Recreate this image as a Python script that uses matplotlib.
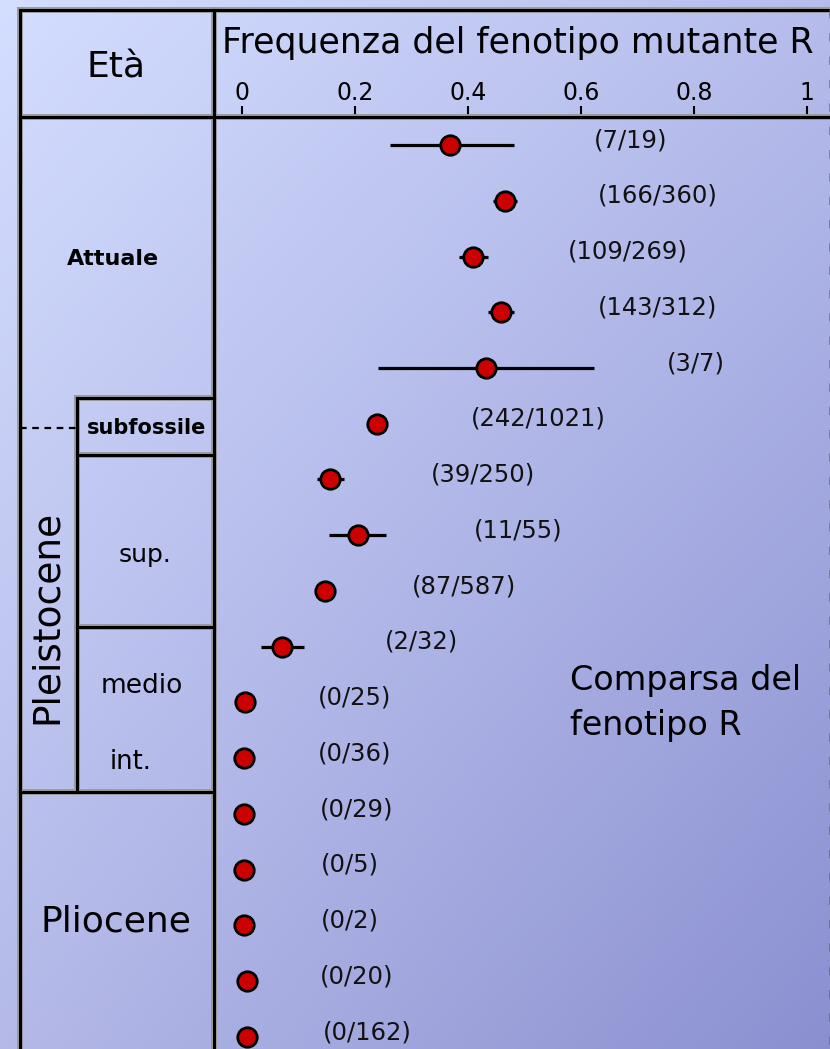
import numpy as np
import matplotlib
matplotlib.use("Agg")
import matplotlib.pyplot as plt

# ---------------- data ----------------
count_labels = ["(7/19)", "(166/360)", "(109/269)", "(143/312)", "(3/7)",
                "(242/1021)", "(39/250)", "(11/55)", "(87/587)", "(2/32)",
                "(0/25)", "(0/36)", "(0/29)", "(0/5)", "(0/2)", "(0/20)", "(0/162)"]
freq = [0.368, 0.465, 0.409, 0.458, 0.432, 0.239, 0.156, 0.205, 0.147, 0.071,
        0.006, 0.003, 0.003, 0.003, 0.003, 0.009, 0.009]
ci_low = [0.262, 0.444, 0.384, 0.436, 0.241, 0.239, 0.132, 0.154, 0.147, 0.034,
          0.006, 0.003, 0.003, 0.003, 0.003, 0.009, 0.009]
ci_high = [0.482, 0.487, 0.435, 0.482, 0.623, 0.239, 0.181, 0.255, 0.147, 0.110,
           0.006, 0.003, 0.003, 0.003, 0.003, 0.009, 0.009]
label_x = [0.623, 0.629, 0.577, 0.629, 0.752, 0.405, 0.334, 0.411, 0.300, 0.253,
           0.134, 0.134, 0.138, 0.140, 0.140, 0.138, 0.143]
xtick_vals = [0, 0.2, 0.4, 0.6, 0.8, 1]
xtick_labels = ["0", "0.2", "0.4", "0.6", "0.8", "1"]

# ---------------- figure ----------------
W, H, DPI = 830, 1049, 100
fig = plt.figure(figsize=(W / DPI, H / DPI), dpi=DPI)

# background gradient (whole figure)
bg = fig.add_axes([0, 0, 1, 1], zorder=0)
yy, xx = np.mgrid[0:H, 0:W]
u = xx / W
v = yy / H
TL = np.array([212, 222, 255]) / 255
TR = np.array([182, 189, 236]) / 255
BL = np.array([180, 185, 232]) / 255
BR = np.array([138, 143, 208]) / 255
img = (TL[None, None, :] * ((1 - u) * (1 - v))[..., None]
       + TR[None, None, :] * (u * (1 - v))[..., None]
       + BL[None, None, :] * ((1 - u) * v)[..., None]
       + BR[None, None, :] * (u * v)[..., None])
bg.imshow(img, extent=(0, W, H, 0), aspect="auto", interpolation="bilinear")
bg.set_xlim(0, W)
bg.set_ylim(H, 0)
bg.axis("off")

# main data axes
ax_left_px, ax_top_px = 214, 117
ax = fig.add_axes([ax_left_px / W, 0, 1 - ax_left_px / W, 1 - ax_top_px / H], zorder=2)
ax.patch.set_alpha(0)
zero_px, px_per_unit = 242, 565
ax.set_xlim((ax_left_px - zero_px) / px_per_unit, (W - zero_px) / px_per_unit)
row0_px, row_step = 145, 55.75
ax.set_ylim((H - row0_px) / row_step, (ax_top_px - row0_px) / row_step)

rows = np.arange(len(freq))
f = np.array(freq)
xerr = [f - np.array(ci_low), np.array(ci_high) - f]
ax.errorbar(f, rows, xerr=xerr, fmt="o", ecolor="black", elinewidth=2.3,
            capsize=0, markersize=14, markerfacecolor="#cc0000",
            markeredgecolor="black", markeredgewidth=2, zorder=3)

for i, (lab, lx) in enumerate(zip(count_labels, label_x)):
    ax.annotate(lab, (lx, rows[i]), xytext=(0, 3.5), textcoords="offset points",
                ha="left", va="center", fontsize=17.5, color="#111111")

ax.xaxis.tick_top()
ax.set_xticks(xtick_vals)
ax.set_xticklabels(xtick_labels)
ax.tick_params(axis="x", direction="out", length=8, width=1.5, pad=1,
               labelsize=17, top=True, bottom=False, colors="black")
ax.set_yticks([])
for s in ax.spines.values():
    s.set_visible(False)

# overlay for the table frame and texts (pixel coordinates)
ov = fig.add_axes([0, 0, 1, 1], zorder=3)
ov.set_xlim(0, W)
ov.set_ylim(H, 0)
ov.axis("off")
ov.patch.set_alpha(0)

def seg(p1, p2, ls="-"):
    ov.plot([p1[0], p2[0]], [p1[1], p2[1]], color="#9a9a9a", lw=4.2,
            solid_capstyle="projecting", ls=ls, zorder=1)
    ov.plot([p1[0], p2[0]], [p1[1], p2[1]], color="black", lw=2.2,
            solid_capstyle="projecting", ls=ls, zorder=2)

seg((20, 10), (830, 10))
seg((20, 10), (20, 1049))
seg((214, 10), (214, 1049))
seg((20, 117), (830, 117))
seg((77, 398), (214, 398))
seg((77, 398), (77, 792))
seg((77, 455), (214, 455))
seg((77, 627), (214, 627))
seg((20, 792), (214, 792))
ov.plot([20, 77], [428, 428], color="black", lw=1.6, ls=(0, (3, 2.5)), zorder=2)
ov.plot([829.5, 829.5], [10, 1049], color="#5a5a80", lw=1.2, alpha=0.7,
        ls=(0, (5, 9)), zorder=2)

ov.text(116, 77, "Età", ha="center", va="baseline", fontsize=26)
ov.text(222, 53, "Frequenza del fenotipo mutante R", ha="left", va="baseline", fontsize=25)
ov.text(113, 259, "Attuale", ha="center", va="center", fontsize=16, fontweight="bold")
ov.text(147, 428, "subfossile", ha="center", va="center", fontsize=15, fontweight="bold")
ov.text(145, 555, "sup.", ha="center", va="center", fontsize=18)
ov.text(142, 686, "medio", ha="center", va="center", fontsize=19)
ov.text(131, 762, "int.", ha="center", va="center", fontsize=18.5)
ov.text(47, 617, "Pleistocene", ha="center", va="center", rotation=90, fontsize=27)
ov.text(116, 921, "Pliocene", ha="center", va="center", fontsize=26)
ov.text(570, 690, "Comparsa del", ha="left", va="baseline", fontsize=24)
ov.text(570, 735, "fenotipo R", ha="left", va="baseline", fontsize=24)

fig.savefig("out.png", dpi=DPI)
